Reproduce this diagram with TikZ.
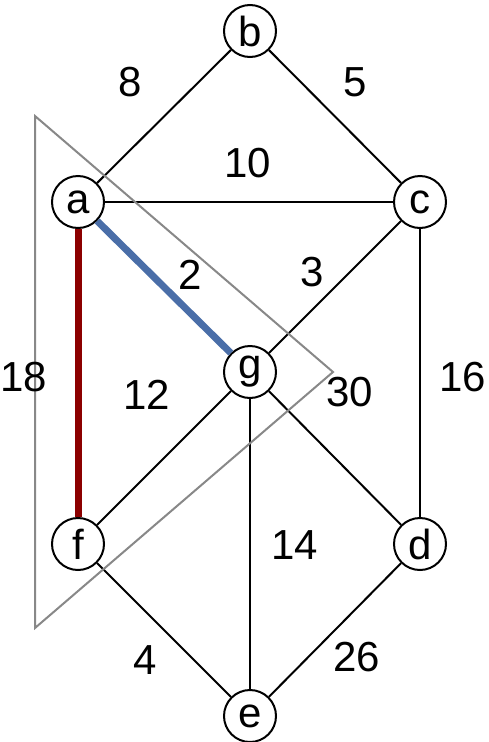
\documentclass[tikz,border=0pt]{standalone}
\usepackage{fontspec}
\setmainfont{Liberation Sans}
\definecolor{edgeblue}{RGB}{74,110,168}
\definecolor{edgered}{RGB}{140,0,0}
\definecolor{trigray}{RGB}{136,136,136}
\begin{document}
\begin{tikzpicture}[x=1pt,y=-1pt,
  vtx/.style={circle,draw=black,line width=2pt,fill=white,minimum size=52pt,inner sep=0pt,font=\fontsize{42}{46}\selectfont},
  edge/.style={draw=black,line width=2pt},
  wlabel/.style={font=\fontsize{42}{46}\selectfont,inner sep=0pt}]
\useasboundingbox (0,0) rectangle (489,742);
\node[vtx] (b) at (250,31) {b};
\node[vtx] (a) at (78,202) {a};
\node[vtx] (c) at (420,202) {c};
\node[vtx] (g) at (250,372) {g};
\node[vtx] (f) at (78,544) {f};
\node[vtx] (d) at (420,544) {d};
\node[vtx] (e) at (250,716) {e};
\draw[edge] (a) -- (b);
\draw[edge] (b) -- (c);
\draw[edge] (a) -- (c);
\draw[edge] (c) -- (g);
\draw[edge] (g) -- (f);
\draw[edge] (g) -- (e);
\draw[edge] (g) -- (d);
\draw[edge] (c) -- (d);
\draw[edge] (f) -- (e);
\draw[edge] (d) -- (e);
\draw[draw=edgeblue,line width=7pt] (a) -- (g);
\draw[draw=edgered,line width=7pt] (a) -- (f);
\coordinate (t1) at (35,116);
\coordinate (t2) at (333,372);
\coordinate (t3) at (35,628);
\draw[draw=trigray,line width=2pt,line join=miter] (t1) -- (t2) -- (t3) -- cycle;
\node[wlabel] (l8) at (130,82) {8};
\node[wlabel] (l5) at (355,82) {5};
\node[wlabel] (l10) at (248,163) {10};
\node[wlabel] (l2) at (190,275) {2};
\node[wlabel] (l3) at (312,272) {3};
\node[wlabel] (l18) at (24,377) {18};
\node[wlabel] (l16) at (463,377) {16};
\node[wlabel] (l12) at (147,395) {12};
\node[wlabel] (l30) at (350,392) {30};
\node[wlabel] (l14) at (295,545) {14};
\node[wlabel] (l4) at (145,660) {4};
\node[wlabel] (l26) at (357,657) {26};
\end{tikzpicture}
\end{document}
